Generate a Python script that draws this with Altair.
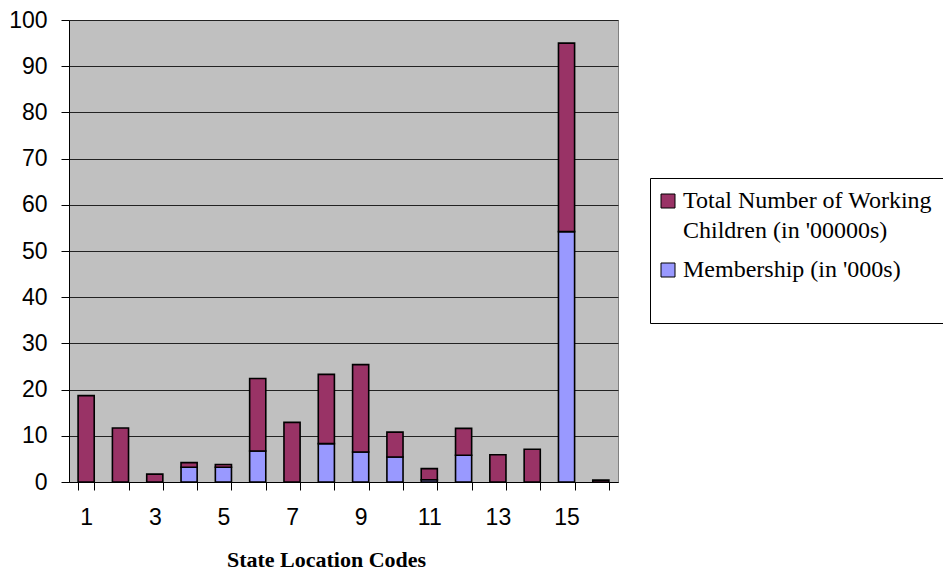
import json
import altair as alt
import pandas as pd

# ---- data ----
codes = list(range(1, 17))
series = ["Total Number of Working Children (in '00000s)", "Membership (in '000s)"]
working = [18.7, 11.7, 1.7, 1.0, 0.6, 15.7, 12.9, 15.0, 18.9, 5.4, 2.4, 5.8, 5.9, 7.1, 40.8, 0.4]
membership = [0, 0, 0, 3.2, 3.2, 6.7, 0, 8.3, 6.5, 5.4, 0.5, 5.8, 0, 0, 54.2, 0]
colors = ["#993366", "#9999FF"]
legend_lines = [["Total Number of Working", "Children (in '00000s)"], ["Membership (in '000s)", ""]]

rows = []
for c, w, m in zip(codes, working, membership):
    rows.append({"code": c, "series": series[1], "value": m, "ord": 0})
    rows.append({"code": c, "series": series[0], "value": w, "ord": 1})
df = pd.DataFrame(rows)

label_expr = (
    f"datum.label == {json.dumps(series[0])} ? {json.dumps(legend_lines[0])} : {json.dumps(legend_lines[1])}"
)

chart = (
    alt.Chart(df)
    .mark_bar(stroke="black", strokeWidth=1.6)
    .encode(
        x=alt.X(
            "code:O",
            scale=alt.Scale(paddingInner=0.53, paddingOuter=0.265),
            axis=alt.Axis(
                title="State Location Codes",
                labelExpr="datum.value % 2 == 1 ? datum.label : ''",
                labelAngle=0,
                labelFont="Liberation Sans",
                labelFontSize=23,
                labelColor="black",
                labelPadding=16,
                tickBand="extent",
                tickSize=8,
                tickColor="black",
                domainColor="black",
                titleFont="Liberation Serif",
                titleFontWeight="bold",
                titleFontSize=22,
                titleColor="black",
                titleX=257,
                titleY=84,
                titleAlign="center",
                titleBaseline="alphabetic",
            ),
        ),
        y=alt.Y(
            "value:Q",
            stack="zero",
            scale=alt.Scale(domain=[0, 100], nice=False),
            axis=alt.Axis(
                title=None,
                values=list(range(0, 101, 10)),
                labelFont="Liberation Sans",
                labelFontSize=23,
                labelColor="black",
                labelPadding=14,
                tickSize=8,
                tickColor="black",
                domainColor="black",
                gridColor="#222222",
                gridWidth=1,
            ),
        ),
        color=alt.Color(
            "series:N",
            scale=alt.Scale(domain=series, range=colors),
            legend=alt.Legend(
                title=None,
                orient="none",
                legendX=581,
                legendY=158,
                padding=11,
                fillColor="white",
                strokeColor="black",
                symbolType="square",
                symbolSize=196,
                symbolStrokeColor="black",
                symbolStrokeWidth=1,
                symbolOpacity=1,
                symbolOffset=-5,
                labelExpr=label_expr,
                labelFont="Liberation Serif",
                labelFontSize=24,
                labelColor="black",
                labelLimit=500,
                labelOffset=3,
                rowPadding=15,
            ),
        ),
        order=alt.Order("ord:Q"),
    )
    .properties(
        width=549,
        height=462,
        padding={"left": 61, "top": 12, "right": 325, "bottom": 88},
        autosize=alt.AutoSizeParams(type="none"),
    )
    .configure(
        background="white",
        style={"guide-label": {"lineHeight": 30}},
        view=alt.ViewConfig(fill="#C0C0C0", stroke="#808080"),
    )
)

chart.save("out.html", embed_options={"renderer": "svg", "actions": False})
